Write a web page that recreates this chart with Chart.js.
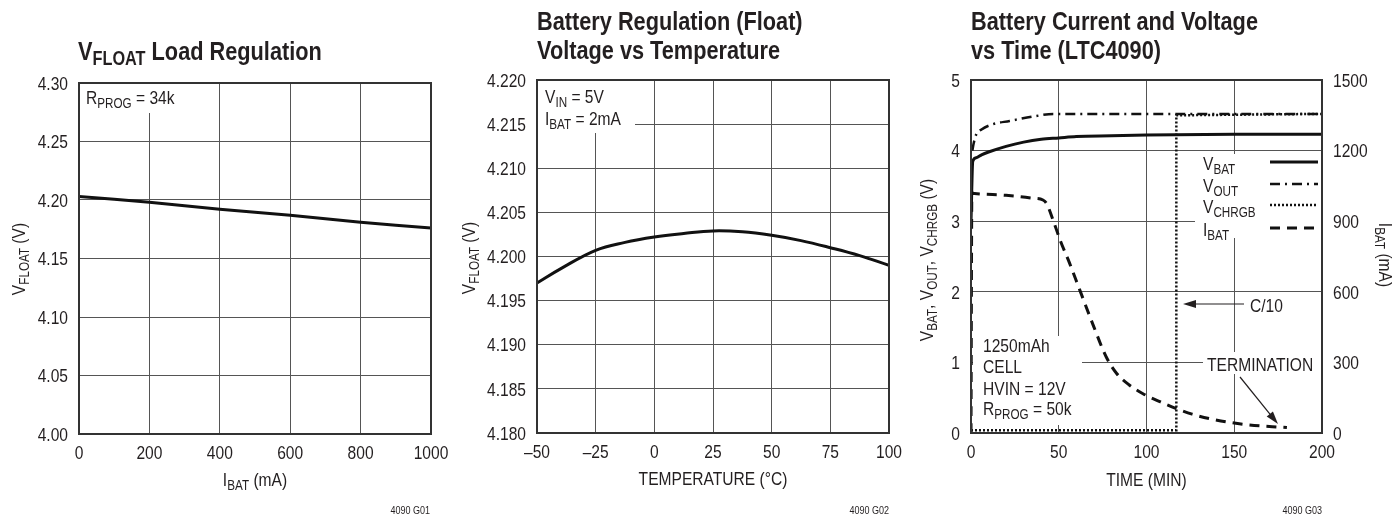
<!DOCTYPE html>
<html>
<head>
<meta charset="utf-8">
<script src="https://cdn.jsdelivr.net/npm/chart.js@4.4.1/dist/chart.umd.min.js"></script>
<style>
  body { margin: 0; background: #fff; width: 1393px; height: 514px; overflow: hidden; position: relative; }
  .panel { position: absolute; top: 0; height: 514px; }
</style>
</head>
<body>
<div class="panel" style="left:0;width:452px"><canvas id="loadChart"></canvas></div>
<div class="panel" style="left:452px;width:453px"><canvas id="tempChart"></canvas></div>
<div class="panel" style="left:905px;width:488px"><canvas id="timeChart"></canvas></div>
<script>
// ---- data: VFLOAT load regulation ----
const loadCurrent = [0, 200, 400, 600, 800, 1000];
const loadVfloat = [4.203, 4.198, 4.192, 4.187, 4.181, 4.176];
const loadXTicks = [0, 200, 400, 600, 800, 1000];
const loadXLabels = ['0', '200', '400', '600', '800', '1000'];
const loadYTicks = [4.00, 4.05, 4.10, 4.15, 4.20, 4.25, 4.30];
const loadYLabels = ['4.00', '4.05', '4.10', '4.15', '4.20', '4.25', '4.30'];

// ---- data: float voltage vs temperature ----
const tempC = [-50, -40, -25, -12.5, 0, 12.5, 25, 37.5, 50, 62.5, 75, 87.5, 100];
const tempVfloat = [4.1970, 4.1986, 4.2007, 4.2016, 4.2022, 4.2026, 4.2029, 4.2028, 4.2024, 4.2018, 4.2010, 4.2001, 4.1990];
const tempXTicks = [-50, -25, 0, 25, 50, 75, 100];
const tempXLabels = ['\u201350', '\u201325', '0', '25', '50', '75', '100'];
const tempYTicks = [4.180, 4.185, 4.190, 4.195, 4.200, 4.205, 4.210, 4.215, 4.220];
const tempYLabels = ['4.180', '4.185', '4.190', '4.195', '4.200', '4.205', '4.210', '4.215', '4.220'];

// ---- data: battery current and voltage vs time ----
const vbatTime = [0, 1, 3, 6, 10, 20, 30, 40, 50, 60, 80, 100, 150, 200];
const vbat = [3.0, 3.85, 3.9, 3.94, 3.98, 4.06, 4.12, 4.16, 4.18, 4.2, 4.21, 4.22, 4.23, 4.23];
const voutTime = [0.8, 1.5, 3, 6, 12, 22, 37, 47, 60, 100, 200];
const vout = [4.0, 4.1, 4.23, 4.3, 4.37, 4.42, 4.49, 4.52, 4.52, 4.52, 4.52];
const vchrgbTime = [0, 117, 117, 200];
const vchrgb = [0.04, 0.04, 4.5, 4.52];
const ibatTime = [0, 0.5, 2, 20, 35, 41, 43, 47, 51, 56, 62, 70, 77, 83, 90, 98, 108, 117, 126, 136, 155, 180];
const ibat = [0, 1020, 1018, 1010, 998, 990, 976, 900, 815, 725, 607, 451, 324, 253, 205, 167, 132, 104, 80, 61, 37, 23];
const timeXTicks = [0, 50, 100, 150, 200];
const timeYTicks = [0, 1, 2, 3, 4, 5];
const timeY2Ticks = [0, 300, 600, 900, 1200, 1500];

const INK = '#231f20';
const FONT = '"Liberation Sans", Arial, sans-serif';
const SQUEEZE = 0.82; // condensed look
const TITLE = 26.5;

function font(size, bold) {
  return (bold ? 'bold ' : '') + size + 'px ' + FONT;
}

// parts: [[text, isSub], ...]
function drawRich(ctx, parts, x, y, size, bold, align) {
  let w = 0;
  parts.forEach(p => {
    ctx.font = font(p[1] ? size * 0.75 : size, bold);
    w += ctx.measureText(p[0]).width * SQUEEZE;
  });
  let cx = align === 'center' ? x - w / 2 : align === 'right' ? x - w : x;
  ctx.fillStyle = INK;
  ctx.textAlign = 'left';
  ctx.textBaseline = 'alphabetic';
  parts.forEach(p => {
    const s = p[1] ? size * 0.75 : size;
    ctx.font = font(s, bold);
    ctx.save();
    ctx.translate(cx, p[1] ? y + size * 0.2 : y);
    ctx.scale(SQUEEZE, 1);
    ctx.fillText(p[0], 0, 0);
    ctx.restore();
    cx += ctx.measureText(p[0]).width * SQUEEZE;
  });
}

function drawRotated(ctx, parts, cx, cy, baseX, size, angle) {
  ctx.save();
  ctx.translate(cx, cy);
  ctx.rotate(angle);
  drawRich(ctx, parts, 0, baseX, size, false, 'center');
  ctx.restore();
}

// tick labels placed through the chart's own scales
function tickLabels(chart, id, values, labels, side) {
  const s = chart.scales[id], a = chart.chartArea, ctx = chart.ctx;
  values.forEach((v, i) => {
    if (side === 'bottom') {
      drawRich(ctx, [[labels[i]]], s.getPixelForValue(v), a.bottom + 25, 19, false, 'center');
    } else if (side === 'left') {
      drawRich(ctx, [[labels[i]]], a.left - 11, s.getPixelForValue(v) + 6.7, 19, false, 'right');
    } else {
      drawRich(ctx, [[labels[i]]], a.right + 11, s.getPixelForValue(v) + 6.7, 19, false, 'left');
    }
  });
}

function whiteBox(ctx, x, y, w, h) {
  ctx.save();
  ctx.fillStyle = '#fff';
  ctx.fillRect(x, y, w, h);
  ctx.restore();
}

function frame(ctx, area) {
  ctx.save();
  ctx.strokeStyle = '#333';
  ctx.lineWidth = 2;
  ctx.strokeRect(area.left, area.top, area.right - area.left, area.bottom - area.top);
  ctx.restore();
}

function arrow(ctx, x1, y1, x2, y2) {
  const a = Math.atan2(y2 - y1, x2 - x1);
  ctx.save();
  ctx.strokeStyle = INK;
  ctx.fillStyle = INK;
  ctx.lineWidth = 1.2;
  ctx.beginPath();
  ctx.moveTo(x1, y1);
  ctx.lineTo(x2 - 8 * Math.cos(a), y2 - 8 * Math.sin(a));
  ctx.stroke();
  ctx.beginPath();
  ctx.moveTo(x2, y2);
  ctx.lineTo(x2 - 13 * Math.cos(a) + 4 * Math.sin(a), y2 - 13 * Math.sin(a) - 4 * Math.cos(a));
  ctx.lineTo(x2 - 13 * Math.cos(a) - 4 * Math.sin(a), y2 - 13 * Math.sin(a) + 4 * Math.cos(a));
  ctx.closePath();
  ctx.fill();
  ctx.restore();
}

function xy(xs, ys) {
  return xs.map((x, i) => ({ x: x, y: ys[i] }));
}

function axis(ticks, extra) {
  return Object.assign({
    type: 'linear',
    min: ticks[0],
    max: ticks[ticks.length - 1],
    afterBuildTicks: s => { s.ticks = ticks.map(v => ({ value: v })); },
    ticks: { display: false },
    grid: { color: '#555', lineWidth: 1, drawTicks: false },
    border: { display: false }
  }, extra);
}

function baseOptions(pad, scales) {
  return {
    responsive: true,
    maintainAspectRatio: false,
    animation: false,
    events: [],
    layout: { padding: pad },
    plugins: { legend: { display: false }, tooltip: { enabled: false } },
    elements: { point: { radius: 0 } },
    scales: scales
  };
}

// ---------- chart 1 ----------
new Chart(document.getElementById('loadChart'), {
  type: 'line',
  data: {
    datasets: [{
      data: xy(loadCurrent, loadVfloat),
      borderColor: '#111',
      borderWidth: 3,
      tension: 0.3
    }]
  },
  options: baseOptions({ left: 0, right: 21, top: 83, bottom: 0 }, {
    x: axis(loadXTicks, { afterFit: s => { s.height = 80; } }),
    y: axis(loadYTicks, { afterFit: s => { s.width = 79; } })
  }),
  plugins: [{
    id: 'loadDecor',
    beforeDatasetsDraw(chart) {
      const a = chart.chartArea;
      whiteBox(chart.ctx, a.left + 1, a.top + 1, 185 - a.left, 113 - a.top - 1);
    },
    afterDatasetsDraw(chart) {
      const ctx = chart.ctx, a = chart.chartArea;
      frame(ctx, a);
      tickLabels(chart, 'x', loadXTicks, loadXLabels, 'bottom');
      tickLabels(chart, 'y', loadYTicks, loadYLabels, 'left');
      drawRich(ctx, [['V'], ['FLOAT', 1], [' Load Regulation']], 78, 60, TITLE, true, 'left');
      drawRich(ctx, [['R'], ['PROG', 1], [' = 34k']], 86, 104, 19, false, 'left');
      drawRich(ctx, [['I'], ['BAT', 1], [' (mA)']], (a.left + a.right) / 2, 486, 19, false, 'center');
      drawRotated(ctx, [['V'], ['FLOAT', 1], [' (V)']], 0, 259, 25, 19, -Math.PI / 2);
      drawRich(ctx, [['4090 G01']], 430, 514, 11, false, 'right');
    }
  }]
});

// ---------- chart 2 ----------
new Chart(document.getElementById('tempChart'), {
  type: 'line',
  data: {
    datasets: [{
      data: xy(tempC, tempVfloat),
      borderColor: '#111',
      borderWidth: 3,
      tension: 0.4
    }]
  },
  options: baseOptions({ left: 0, right: 16, top: 80, bottom: 0 }, {
    x: axis(tempXTicks, { afterFit: s => { s.height = 81; } }),
    y: axis(tempYTicks, { afterFit: s => { s.width = 85; } })
  }),
  plugins: [{
    id: 'tempDecor',
    beforeDatasetsDraw(chart) {
      const a = chart.chartArea;
      whiteBox(chart.ctx, a.left + 1, a.top + 1, 634 - 452 - a.left, 133 - a.top - 1);
    },
    afterDatasetsDraw(chart) {
      const ctx = chart.ctx, a = chart.chartArea;
      frame(ctx, a);
      tickLabels(chart, 'x', tempXTicks, tempXLabels, 'bottom');
      tickLabels(chart, 'y', tempYTicks, tempYLabels, 'left');
      drawRich(ctx, [['Battery Regulation (Float)']], 85, 30, TITLE, true, 'left');
      drawRich(ctx, [['Voltage vs Temperature']], 85, 59, TITLE, true, 'left');
      drawRich(ctx, [['V'], ['IN', 1], [' = 5V']], 93, 103, 19, false, 'left');
      drawRich(ctx, [['I'], ['BAT', 1], [' = 2mA']], 93, 125, 19, false, 'left');
      drawRich(ctx, [['TEMPERATURE (\u00b0C)']], (a.left + a.right) / 2, 485, 19, false, 'center');
      drawRotated(ctx, [['V'], ['FLOAT', 1], [' (V)']], 0, 258, 23, 19, -Math.PI / 2);
      drawRich(ctx, [['4090 G02']], a.right, 514, 11, false, 'right');
    }
  }]
});

// ---------- chart 3 ----------
const series = [
  { name: [['V'], ['BAT', 1]], t: vbatTime, v: vbat, axis: 'y', dash: [], width: 3, mode: 'monotone' },
  { name: [['V'], ['OUT', 1]], t: voutTime, v: vout, axis: 'y', dash: [10, 5, 2, 5], width: 2.5, mode: 'monotone' },
  { name: [['V'], ['CHRGB', 1]], t: vchrgbTime, v: vchrgb, axis: 'y', dash: [2, 2], width: 2.5, mode: null },
  { name: [['I'], ['BAT', 1]], t: ibatTime, v: ibat, axis: 'y2', dash: [10, 7], width: 3, mode: 'monotone' }
];

new Chart(document.getElementById('timeChart'), {
  type: 'line',
  data: {
    datasets: series.map(s => ({
      data: xy(s.t, s.v),
      yAxisID: s.axis,
      borderColor: '#111',
      borderWidth: s.width,
      borderDash: s.dash,
      tension: s.mode ? 0.4 : 0,
      cubicInterpolationMode: s.mode || 'default'
    }))
  },
  options: baseOptions({ left: 0, right: 0, top: 80, bottom: 0 }, {
    x: axis(timeXTicks, { afterFit: s => { s.height = 81; } }),
    y: axis(timeYTicks, { position: 'left', afterFit: s => { s.width = 66; } }),
    y2: axis(timeY2Ticks, { position: 'right', grid: { display: false, drawTicks: false }, afterFit: s => { s.width = 71; } })
  }),
  plugins: [{
    id: 'timeDecor',
    beforeDatasetsDraw(chart) {
      const ctx = chart.ctx, o = 905;
      whiteBox(ctx, 1195 - o, 154, 1321 - 1195, 238 - 154);
      whiteBox(ctx, 973 - o, 336, 1082 - 973, 425 - 336);
      whiteBox(ctx, 1203 - o, 352, 1321 - 1203, 374 - 352);
    },
    afterDatasetsDraw(chart) {
      const ctx = chart.ctx, a = chart.chartArea, o = 905;
      frame(ctx, a);
      tickLabels(chart, 'x', timeXTicks, timeXTicks.map(String), 'bottom');
      tickLabels(chart, 'y', timeYTicks, timeYTicks.map(String), 'left');
      tickLabels(chart, 'y2', timeY2Ticks, timeY2Ticks.map(String), 'right');
      drawRich(ctx, [['Battery Current and Voltage']], a.left, 30, TITLE, true, 'left');
      drawRich(ctx, [['vs Time (LTC4090)']], a.left, 59, TITLE, true, 'left');

      // legend
      const rows = [170, 192, 213, 236];
      series.forEach((s, i) => {
        drawRich(ctx, s.name, 1203 - o, rows[i], 19, false, 'left');
        ctx.save();
        ctx.strokeStyle = '#111';
        ctx.lineWidth = s.width;
        ctx.setLineDash(s.dash);
        ctx.beginPath();
        ctx.moveTo(1270 - o, rows[i] - 8);
        ctx.lineTo(1318 - o, rows[i] - 8);
        ctx.stroke();
        ctx.restore();
      });

      drawRich(ctx, [['1250mAh']], 983 - o, 352, 19, false, 'left');
      drawRich(ctx, [['CELL']], 983 - o, 373, 19, false, 'left');
      drawRich(ctx, [['HVIN = 12V']], 983 - o, 395, 19, false, 'left');
      drawRich(ctx, [['R'], ['PROG', 1], [' = 50k']], 983 - o, 415, 19, false, 'left');

      drawRich(ctx, [['C/10']], 1250 - o, 312, 19, false, 'left');
      arrow(ctx, 1244 - o, 304, 1183 - o, 304);
      drawRich(ctx, [['TERMINATION']], 1207 - o, 371, 19, false, 'left');
      arrow(ctx, 1240 - o, 377, 1278 - o, 424);

      drawRich(ctx, [['TIME (MIN)']], (a.left + a.right) / 2, 486, 19, false, 'center');
      drawRotated(ctx, [['V'], ['BAT', 1], [', V'], ['OUT', 1], [', V'], ['CHRGB', 1], [' (V)']], 0, 260, 28, 19, -Math.PI / 2);
      drawRotated(ctx, [['I'], ['BAT', 1], [' (mA)']], 488, 255, 488 - (1379 - 905), 19, Math.PI / 2);
      drawRich(ctx, [['4090 G03']], a.right, 514, 11, false, 'right');
    }
  }]
});
</script>
</body>
</html>
